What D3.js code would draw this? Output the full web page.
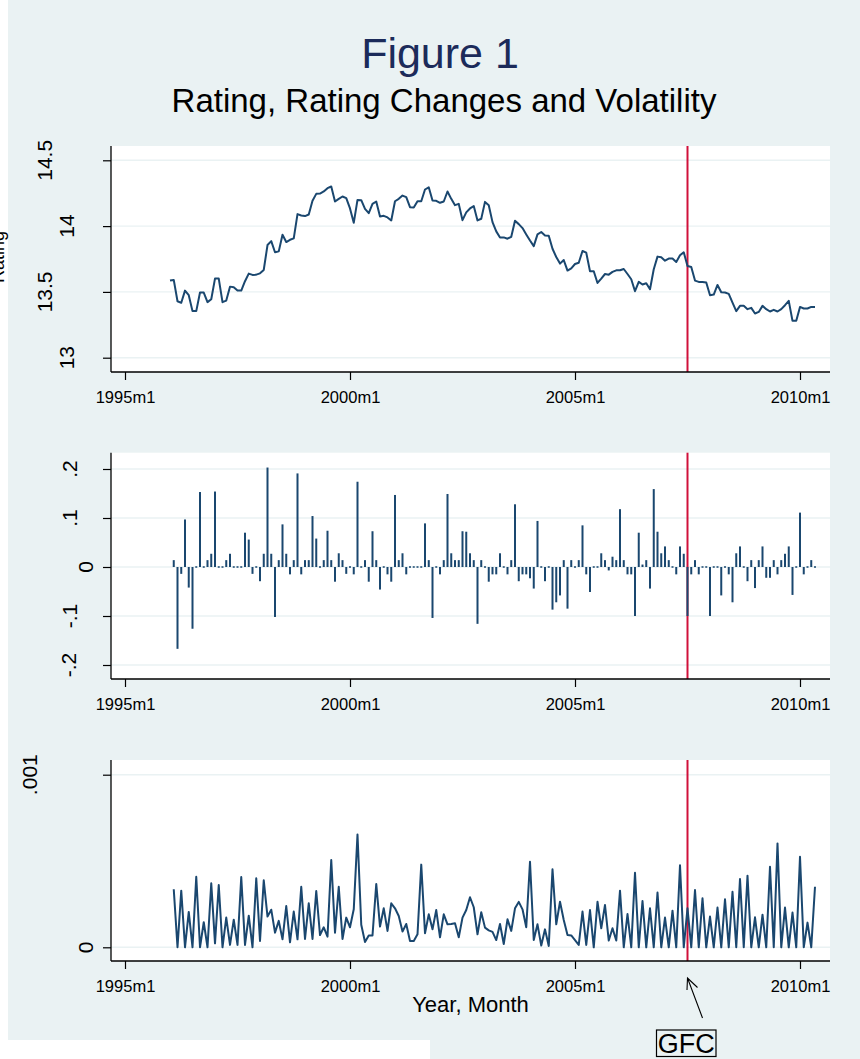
<!DOCTYPE html>
<html>
<head>
<meta charset="utf-8">
<script src="https://d3js.org/d3.v7.min.js"></script>
<style>
body{margin:0;background:#fff;}
svg{display:block;font-family:"Liberation Sans",Arial,sans-serif;}
</style>
</head>
<body>
<svg id="chart" width="860" height="1059"></svg>
<script>
// months are counted from 1995m1
var firstMonth = 12;          // 1996m1, first rating observation
var gfcMonth = 150;           // 2007m7
var xTickMonths = [0, 60, 120, 180];
var xTickLabels = ["1995m1", "2000m1", "2005m1", "2010m1"];

var ratingTicks = [13, 13.5, 14, 14.5];
var ratingTickLabels = ["13", "13.5", "14", "14.5"];
var changeTicks = [-0.2, -0.1, 0, 0.1, 0.2];
var changeTickLabels = ["-.2", "-.1", "0", ".1", ".2"];
var volTicks = [0, 0.001];
var volTickLabels = ["0", ".001"];

// average rating, 1996m1 .. 2010m5
var rating = [
 13.586,13.591,13.429,13.417,13.510,13.475,13.354,13.354,13.495,13.495,
 13.422,13.444,13.601,13.601,13.422,13.434,13.540,13.535,13.510,13.510,
 13.581,13.639,13.629,13.631,13.641,13.667,13.856,13.886,13.801,13.808,
 13.934,13.879,13.896,13.907,14.091,14.081,14.076,14.088,14.192,14.245,
 14.247,14.263,14.288,14.301,14.187,14.207,14.225,14.212,14.134,14.025,
 14.199,14.197,14.131,14.098,14.169,14.187,14.073,14.078,14.066,14.043,
 14.189,14.207,14.232,14.220,14.144,14.141,14.189,14.189,14.278,14.295,
 14.194,14.192,14.177,14.187,14.263,14.207,14.159,14.169,14.045,14.104,
 14.134,14.152,14.043,14.056,14.184,14.159,14.030,13.960,13.914,13.914,
 13.904,13.919,14.040,14.015,13.985,13.937,13.891,13.848,13.937,13.955,
 13.929,13.927,13.828,13.765,13.715,13.742,13.662,13.679,13.712,13.722,
 13.811,13.798,13.657,13.657,13.568,13.601,13.636,13.631,13.652,13.664,
 13.664,13.674,13.636,13.596,13.505,13.576,13.556,13.566,13.520,13.672,
 13.768,13.763,13.737,13.753,13.753,13.727,13.778,13.801,13.697,13.689,
 13.586,13.576,13.576,13.571,13.475,13.480,13.553,13.497,13.495,13.485,
 13.419,13.354,13.394,13.394,13.369,13.379,13.336,13.348,13.394,13.369,
 13.351,13.364,13.351,13.369,13.399,13.432,13.280,13.280,13.386,13.374,
 13.374,13.386,13.386
];

// rating changes, 1996m2 .. 2010m5
var ratingChange = [
 0.014,-0.167,-0.014,0.097,-0.042,-0.126,0.001,0.153,-0.001,
 0.014,0.027,0.154,0,0,0.014,0.027,0,0,0,
 0.070,0.056,-0.014,0,-0.029,0.027,0.203,0.027,-0.102,0.014,
 0.087,0.027,-0.015,0.014,0.191,-0.015,0.014,0.014,0.104,0.058,
 0.001,0.014,0.074,0.014,-0.030,0.028,0.014,-0.014,0,-0.015,
 0.174,0,0.014,-0.030,0.073,0.014,-0.046,0,-0.015,-0.030,
 0.147,0.014,0.028,-0.015,0,0,0,0,0.089,0.014,
 -0.104,0,-0.015,0.014,0.149,0.028,0.014,0.014,0.073,0.072,
 0.028,0.014,-0.116,0.014,0,-0.030,-0.015,-0.015,0.028,0,
 -0.015,0.014,0.128,-0.029,-0.015,-0.015,-0.023,-0.044,0.094,0,
 -0.029,0,-0.087,-0.072,-0.058,0.014,-0.085,0.014,0,0.014,
 0.085,-0.015,-0.051,0,0,0.028,0.014,-0.007,0.021,0.014,
 0.118,0.014,-0.015,-0.015,-0.100,0.070,0.005,0.014,-0.044,0.159,
 0.072,0.028,0.042,0.014,0,-0.015,0.042,0.027,-0.100,-0.015,
 0.014,-0.015,0,0,-0.100,0,0,-0.058,0,-0.015,
 -0.072,0.028,0.042,0,-0.029,0.014,-0.043,0.014,0.042,-0.022,
 -0.022,0.014,-0.015,0.014,0.027,0.042,-0.057,0,0.111,-0.015,
 0,0.014,0
];

// volatility, 1996m2 .. 2010m5, read in units of .001
var volatility = [
 0.336,0,0.328,0,0.205,0,0.409,0,0.145,
 0,0.371,0.023,0.361,0,0.172,0.014,0.160,0.014,0.407,
 0.014,0.183,0,0.400,0.037,0.388,0.178,0.218,0.085,0.153,
 0.046,0.239,0.029,0.207,0.046,0.351,0.048,0.255,0.048,0.326,
 0.071,0.116,0.062,0.506,0.085,0.351,0.048,0.172,0.116,0.220,
 0.654,0.131,0.031,0.069,0.069,0.367,0.120,0.226,0.095,0.255,
 0.226,0.181,0.091,0.135,0.037,0.037,0.075,0.479,0.081,0.191,
 0.104,0.216,0.058,0.191,0.133,0.135,0.139,0.058,0.172,0.216,
 0.290,0.232,0.075,0.203,0.114,0.098,0.089,0.042,0.135,0.019,
 0.162,0.095,0.226,0.263,0.220,0.116,0.496,0.042,0.133,0.010,
 0.104,0.008,0.452,0.133,0.264,0.158,0.071,0.069,0.042,0.014,
 0.207,0.014,0.216,0,0.264,0.110,0.245,0.039,0.110,0.039,
 0.328,0,0.193,0,0.432,0,0.268,0,0.226,0,
 0.317,0,0.172,0,0.212,0,0.475,0,0.226,0,
 0.332,0,0.284,0,0.178,0,0.230,0,0.278,0,
 0.322,0,0.396,0,0.415,0,0.174,0,0.189,0,
 0.467,0,0.602,0,0.230,0,0.201,0,0.525,0,
 0.143,0,0.351
];

var navy = "#1a476f", red = "#d0103a", bg = "#eaf2f3";
var plotLeft = 111, plotRight = 830;

var svg = d3.select("#chart");

//graph region
svg.append("rect").attr("x", 8).attr("y", 0).attr("width", 852).attr("height", 1040).attr("fill", bg);
svg.append("rect").attr("x", 430).attr("y", 1040).attr("width", 430).attr("height", 19).attr("fill", bg);

svg.append("text")
  .attr("x", 440).attr("y", 68)
  .attr("text-anchor", "middle")
  .style("font-size", "43px")
  .style("fill", "#1c2b5a")
  .text("Figure 1");
svg.append("text")
  .attr("x", 444).attr("y", 112)
  .attr("text-anchor", "middle")
  .style("font-size", "33px")
  .style("fill", "#000")
  .text("Rating, Rating Changes and Volatility");

var x = d3.scaleLinear().domain([0, 180]).range([125, 800]);

var panels = [
  {top: 146, bottom: 372, domain: [13, 14.5], range: [357.7, 160.3],
   ticks: ratingTicks, labels: ratingTickLabels, labelX: [66, 44, 66, 44]},
  {top: 452.7, bottom: 679, domain: [-0.2, 0.2], range: [665, 469],
   ticks: changeTicks, labels: changeTickLabels, labelX: [68, 69, 85, 69, 69]},
  {top: 760, bottom: 961, domain: [0, 0.001], range: [947.3, 774.7],
   ticks: volTicks, labels: volTickLabels, labelX: [85, 29]}
];

panels.forEach(function(p){
  p.y = d3.scaleLinear().domain(p.domain).range(p.range);
  var g = svg.append("g");
  p.g = g;

  g.append("rect")
    .attr("x", plotLeft).attr("y", p.top)
    .attr("width", plotRight - plotLeft).attr("height", p.bottom - p.top)
    .attr("fill", "#fff");

  //grid
  g.selectAll(".grid")
    .data(p.ticks)
    .enter().append("line")
      .attr("x1", plotLeft).attr("x2", plotRight)
      .attr("y1", function(d){ return p.y(d); })
      .attr("y2", function(d){ return p.y(d); })
      .attr("stroke", bg)
      .attr("stroke-width", 1.4);

  //GFC line
  g.append("line")
    .attr("x1", x(gfcMonth)).attr("x2", x(gfcMonth))
    .attr("y1", p.top).attr("y2", p.bottom)
    .attr("stroke", red)
    .attr("stroke-width", 2);
});

//Rating line
var p1 = panels[0];
var ratingLine = d3.line()
  .x(function(d, i){ return x(firstMonth + i); })
  .y(function(d){ return p1.y(d); });
p1.g.append("path")
  .attr("d", ratingLine(rating))
  .attr("fill", "none")
  .attr("stroke", navy)
  .attr("stroke-width", 2)
  .attr("stroke-linejoin", "round");

//Rating change bars
var p2 = panels[1];
p2.g.selectAll(".bar")
  .data(ratingChange)
  .enter().append("rect")
    .attr("x", function(d, i){ return x(firstMonth + 1 + i) - 1; })
    .attr("width", 2)
    .attr("y", function(d){
      var h = Math.abs(p2.y(d) - p2.y(0));
      return h < 1.5 ? p2.y(0) - 0.75 : Math.min(p2.y(d), p2.y(0)); })
    .attr("height", function(d){ return Math.max(1.5, Math.abs(p2.y(d) - p2.y(0))); })
    .attr("fill", navy);

//Volatility line
var p3 = panels[2];
var volLine = d3.line()
  .x(function(d, i){ return x(firstMonth + 1 + i); })
  .y(function(d){ return p3.y(d * 0.001); });
p3.g.append("path")
  .attr("d", volLine(volatility))
  .attr("fill", "none")
  .attr("stroke", navy)
  .attr("stroke-width", 2)
  .attr("stroke-linejoin", "round");

//Axes
panels.forEach(function(p){
  var g = p.g;
  var xAxis = d3.axisBottom(x)
    .tickValues(xTickMonths)
    .tickFormat(function(d, i){ return xTickLabels[i]; })
    .tickSize(8)
    .tickPadding(11);
  var xg = g.append("g")
    .attr("transform", "translate(0," + p.bottom + ")")
    .call(xAxis);
  xg.select(".domain").remove();
  xg.selectAll("line").attr("stroke", "#000").attr("stroke-width", 1.2);
  xg.selectAll("text").style("font-size", "16.5px").style("fill", "#000").attr("font-family", null);

  var yAxis = d3.axisLeft(p.y)
    .tickValues(p.ticks)
    .tickFormat("")
    .tickSize(8);
  var yg = g.append("g")
    .attr("transform", "translate(" + plotLeft + ",0)")
    .call(yAxis);
  yg.select(".domain").remove();
  yg.selectAll("line").attr("stroke", "#000").attr("stroke-width", 1.2);

  g.selectAll(".ylab")
    .data(p.ticks)
    .enter().append("text")
      .attr("transform", function(d, i){
        return "translate(" + (p.labelX[i] + 7.5) + "," + p.y(d) + ") rotate(-90)"; })
      .attr("text-anchor", "middle")
      .style("font-size", "21px")
      .style("fill", "#000")
      .text(function(d, i){ return p.labels[i]; });

  g.append("line")
    .attr("x1", plotLeft).attr("x2", plotLeft)
    .attr("y1", p.top).attr("y2", p.bottom)
    .attr("stroke", "#000").attr("stroke-width", 1.3);
  g.append("line")
    .attr("x1", plotLeft).attr("x2", plotRight)
    .attr("y1", p.bottom).attr("y2", p.bottom)
    .attr("stroke", "#000").attr("stroke-width", 1.3);
});

//Axis titles
svg.append("text")
  .attr("transform", "translate(4," + 257 + ") rotate(-90)")
  .attr("text-anchor", "middle")
  .style("font-size", "18px")
  .text("Rating");
svg.append("text")
  .attr("x", (plotLeft + plotRight) / 2).attr("y", 1012)
  .attr("text-anchor", "middle")
  .style("font-size", "22px")
  .text("Year, Month");

//GFC annotation
var tipX = x(gfcMonth), tipY = 978;
svg.append("path")
  .attr("d", "M" + (tipX + 15) + "," + 1018 + "L" + tipX + "," + tipY +
             "M" + (tipX - 0.5) + "," + (tipY + 12) + "L" + tipX + "," + tipY +
             "L" + (tipX + 10) + "," + (tipY + 9.5))
  .attr("fill", "none")
  .attr("stroke", "#000")
  .attr("stroke-width", 1.1);
svg.append("rect")
  .attr("x", 656.5).attr("y", 1030)
  .attr("width", 59.5).attr("height", 26.5)
  .attr("fill", bg)
  .attr("stroke", "#000")
  .attr("stroke-width", 1.2);
svg.append("text")
  .attr("x", 686.3).attr("y", 1053)
  .attr("text-anchor", "middle")
  .style("font-size", "27px")
  .text("GFC");
</script>
</body>
</html>
